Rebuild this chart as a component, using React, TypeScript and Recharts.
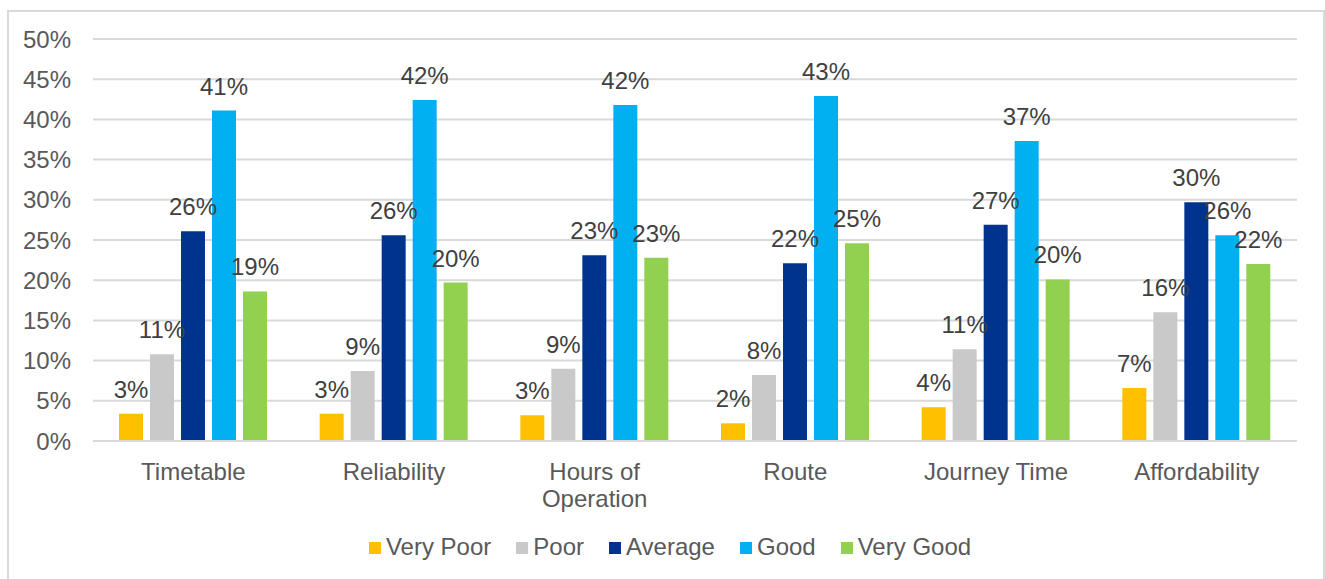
import { BarChart, Bar, XAxis, YAxis, CartesianGrid, Legend, LabelList } from 'recharts'

// Survey ratings by service aspect, percent of respondents
const categories = ['Timetable', 'Reliability', 'Hours of Operation', 'Route', 'Journey Time', 'Affordability']
const veryPoor = [3.4, 3.4, 3.2, 2.2, 4.2, 6.6]
const poor = [10.8, 8.7, 9.0, 8.2, 11.4, 16.0]
const average = [26.1, 25.6, 23.1, 22.1, 26.9, 29.7]
const good = [41.1, 42.4, 41.8, 42.9, 37.3, 25.6]
const veryGood = [18.6, 19.7, 22.8, 24.6, 20.1, 22.0]
const yTicks = [0, 5, 10, 15, 20, 25, 30, 35, 40, 45, 50]

const SERIES = [
  { key: 'Very Poor', values: veryPoor, color: '#FFC000' },
  { key: 'Poor', values: poor, color: '#C9C9C9' },
  { key: 'Average', values: average, color: '#00338D' },
  { key: 'Good', values: good, color: '#00B0F0' },
  { key: 'Very Good', values: veryGood, color: '#92D050' },
]

const FONT = '"Liberation Sans", Arial, sans-serif'
const FONT_SIZE = 24
const AXIS_TEXT = '#595959'
const LABEL_TEXT = '#404040'
const GRID = '#d9d9d9'

const chartData = categories.map((name, i) => {
  const row: Record<string, string | number> = { name }
  for (const s of SERIES) row[s.key] = s.values[i]
  return row
})

// wrap long category names onto two lines
function wrapLabel(label: string, maxChars = 13): string[] {
  const lines: string[] = []
  let cur = ''
  for (const word of label.split(' ')) {
    const next = cur ? `${cur} ${word}` : word
    if (next.length > maxChars && cur) {
      lines.push(cur)
      cur = word
    } else {
      cur = next
    }
  }
  if (cur) lines.push(cur)
  return lines
}

function CategoryTick(props: any) {
  const { x, y, payload } = props
  const lines = wrapLabel(String(payload.value))
  return (
    <text x={x} y={y} textAnchor="middle" fill={AXIS_TEXT} fontSize={FONT_SIZE} fontFamily={FONT}>
      {lines.map((line, i) => (
        <tspan key={i} x={x} dy={i === 0 ? '0.71em' : 27.4}>
          {line}
        </tspan>
      ))}
    </text>
  )
}

function LegendContent() {
  return (
    <div
      style={{
        display: 'flex',
        justifyContent: 'center',
        alignItems: 'center',
        height: 36,
        paddingLeft: 15,
        gap: 25,
        fontFamily: FONT,
        fontSize: FONT_SIZE,
        color: AXIS_TEXT,
      }}
    >
      {SERIES.map((s) => (
        <div key={s.key} style={{ display: 'flex', alignItems: 'center', gap: 5 }}>
          <span style={{ width: 12, height: 12, background: s.color, display: 'inline-block', marginTop: 2 }} />
          <span>{s.key}</span>
        </div>
      ))}
    </div>
  )
}

export default function App() {
  return (
    <div style={{ position: 'absolute', left: 0, top: 0, width: 1325, height: 579, overflow: 'hidden', background: '#fff' }}>
      <div
        style={{
          position: 'absolute',
          left: 7,
          top: 10,
          width: 1314,
          height: 600,
          border: `2px solid ${GRID}`,
        }}
      />
      <BarChart
        width={1325}
        height={579}
        data={chartData}
        margin={{ top: 39, right: 28, left: 0, bottom: 34 }}
        barGap={7}
        style={{ fontFamily: FONT }}
      >
        <CartesianGrid vertical={false} stroke={GRID} strokeWidth={2} />
        <XAxis
          dataKey="name"
          height={68}
          interval={0}
          tickLine={false}
          tickSize={0}
          tickMargin={22}
          axisLine={{ stroke: GRID, strokeWidth: 2 }}
          tick={<CategoryTick />}
        />
        <YAxis
          width={93}
          domain={[0, 50]}
          ticks={yTicks}
          interval={0}
          tickLine={false}
          tickSize={0}
          tickMargin={22}
          axisLine={false}
          tickFormatter={(v) => `${v}%`}
          tick={{ fill: AXIS_TEXT, fontSize: FONT_SIZE, fontFamily: FONT }}
        />
        <Legend
          verticalAlign="bottom"
          height={36}
          content={<LegendContent />}
          wrapperStyle={{ top: 529, left: 0, width: 1325, bottom: 'auto' }}
        />
        {SERIES.map((s) => (
          <Bar key={s.key} dataKey={s.key} fill={s.color} barSize={24} isAnimationActive={false}>
            <LabelList
              dataKey={s.key}
              position="top"
              offset={16}
              formatter={(v: any) => `${Math.round(Number(v))}%`}
              fill={LABEL_TEXT}
              fontSize={FONT_SIZE}
              fontFamily={FONT}
            />
          </Bar>
        ))}
      </BarChart>
    </div>
  )
}
